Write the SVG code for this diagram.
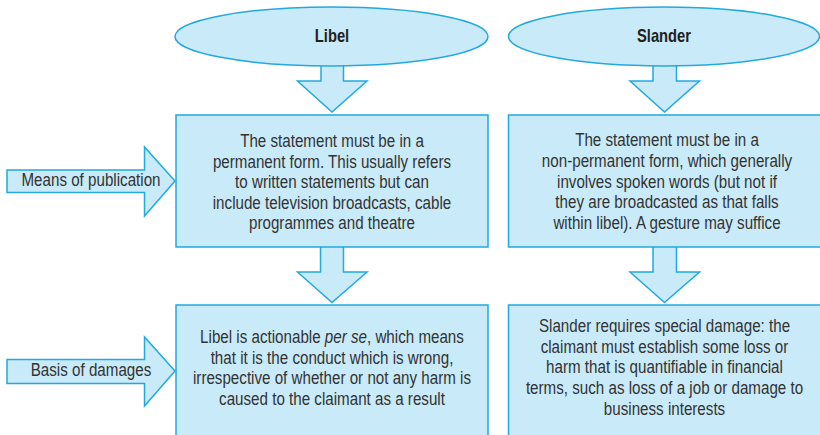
<svg xmlns="http://www.w3.org/2000/svg" width="820" height="435" viewBox="0 0 820 435">
<style>
.shape{fill:#c8eaf9;stroke:#22a9e1;stroke-width:1.5;stroke-linejoin:miter}
.t{font-family:"Liberation Sans",Arial,sans-serif;font-size:18.5px;fill:#333333;text-anchor:middle}
.h{font-family:"Liberation Sans",Arial,sans-serif;font-size:18px;font-weight:bold;fill:#231f20;text-anchor:middle}
</style>
<rect width="820" height="435" fill="#ffffff"/>
<g id="connectors">
<polygon class="shape" points="321,58 343.5,58 343.5,81 367,81 332,112 297.5,81 321,81"/>
<polygon class="shape" points="653,58 676.5,58 676.5,81 699.5,81 664.5,112 630,81 653,81"/>
<polygon class="shape" points="320.5,240 343.5,240 343.5,272 367,272 332,302.5 297.5,272 320.5,272"/>
<polygon class="shape" points="653,240 676.5,240 676.5,272 699.5,272 664.5,302.5 630,272 653,272"/>
<polygon class="shape" points="7,170 144.5,170 144.5,147 175,181 144.5,216 144.5,192.5 7,192.5"/>
<polygon class="shape" points="7,359.5 144.5,359.5 144.5,337 175,371 144.5,406 144.5,383.5 7,383.5"/>
</g>
<g id="libel-head">
<ellipse class="shape" cx="331.5" cy="36.5" rx="156.5" ry="29.5"/>
<g transform="translate(332 0) scale(0.82 1)"><text class="h" x="0" y="42.5">Libel</text></g>
</g>
<g id="slander-head">
<ellipse class="shape" cx="664" cy="36.5" rx="155.5" ry="29.5"/>
<g transform="translate(664 0) scale(0.82 1)"><text class="h" x="0" y="42.5">Slander</text></g>
</g>
<g id="libel-publication">
<rect class="shape" x="176" y="115" width="312" height="132"/>
<g transform="translate(332 0) scale(0.82 1)">
<text class="t" x="0" y="147">The statement must be in a</text>
<text class="t" x="0" y="167.6">permanent form. This usually refers</text>
<text class="t" x="0" y="188.2">to written statements but can</text>
<text class="t" x="0" y="208.8">include television broadcasts, cable</text>
<text class="t" x="0" y="229.4">programmes and theatre</text>
</g>
</g>
<g id="slander-publication">
<rect class="shape" x="508.5" y="115" width="320" height="132"/>
<g transform="translate(667 0) scale(0.82 1)">
<text class="t" x="0" y="146.5">The statement must be in a</text>
<text class="t" x="0" y="167.1">non-permanent form, which generally</text>
<text class="t" x="0" y="187.7">involves spoken words (but not if</text>
<text class="t" x="0" y="208.3">they are broadcasted as that falls</text>
<text class="t" x="0" y="228.9">within libel). A gesture may suffice</text>
</g>
</g>
<g id="libel-damages">
<rect class="shape" x="176" y="305" width="312" height="140"/>
<g transform="translate(332 0) scale(0.82 1)">
<text class="t" x="0" y="343.3">Libel is actionable <tspan font-style="italic">per se</tspan>, which means</text>
<text class="t" x="0" y="363.9">that it is the conduct which is wrong,</text>
<text class="t" x="0" y="384.5">irrespective of whether or not any harm is</text>
<text class="t" x="0" y="405.1">caused to the claimant as a result</text>
</g>
</g>
<g id="slander-damages">
<rect class="shape" x="508.5" y="305" width="320" height="140"/>
<g transform="translate(664.5 0) scale(0.82 1)">
<text class="t" x="0" y="332.3">Slander requires special damage: the</text>
<text class="t" x="0" y="352.9">claimant must establish some loss or</text>
<text class="t" x="0" y="373.5">harm that is quantifiable in financial</text>
<text class="t" x="0" y="394.1">terms, such as loss of a job or damage to</text>
<text class="t" x="0" y="414.7">business interests</text>
</g>
</g>
<g id="means-of-publication">
<g transform="translate(91 0) scale(0.82 1)"><text class="t" x="0" y="186">Means of publication</text></g>
</g>
<g id="basis-of-damages">
<g transform="translate(91 0) scale(0.82 1)"><text class="t" x="0" y="376">Basis of damages</text></g>
</g>
</svg>
